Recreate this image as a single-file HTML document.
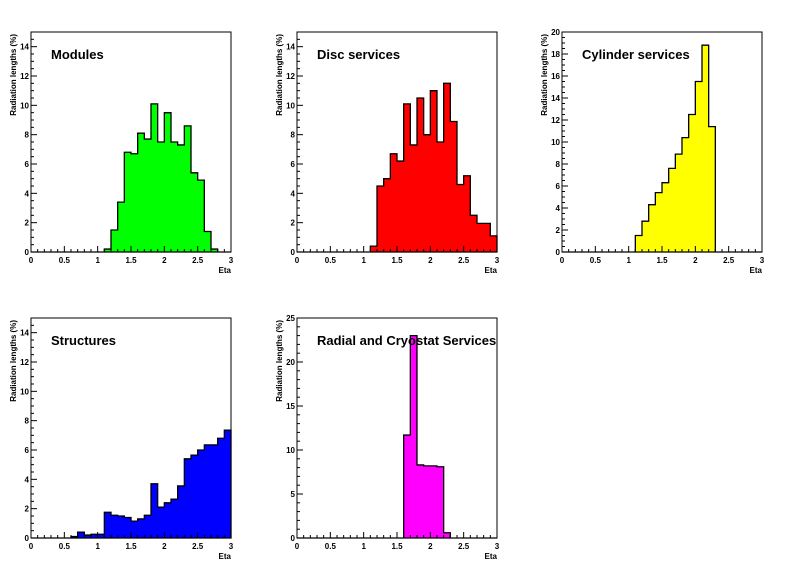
<!DOCTYPE html>
<html><head><meta charset="utf-8"><style>
html,body{margin:0;padding:0;background:#fff}
svg{display:block;font-family:"Liberation Sans",Arial,sans-serif}
</style></head><body>
<svg id="c" width="796" height="572"></svg>
<script>
const categories = ["Modules","Disc services","Cylinder services","Structures","Radial and Cryostat Services"];
const binEdgesStart = 0, binWidth = 0.1, nBins = 30;
const modulesValues = [0,0,0,0,0,0,0,0,0,0,0,0.2,1.5,3.4,6.8,6.7,8.1,7.7,10.1,7.5,9.5,7.5,7.3,8.6,5.4,4.9,1.4,0.2,0,0];
const discValues = [0,0,0,0,0,0,0,0,0,0,0,0.4,4.5,5.0,6.7,6.2,10.1,7.3,10.5,8.0,11.0,7.5,11.5,8.9,4.6,5.2,2.5,1.95,1.95,1.1];
const cylinderValues = [0,0,0,0,0,0,0,0,0,0,0,1.5,2.8,4.3,5.4,6.3,7.6,8.9,10.4,12.5,15.5,18.8,11.4,0,0,0,0,0,0,0];
const structuresValues = [0,0,0,0,0,0,0.1,0.4,0.2,0.25,0.25,1.75,1.55,1.5,1.4,1.15,1.3,1.55,3.7,2.1,2.4,2.65,3.55,5.4,5.65,6.0,6.35,6.35,6.8,7.35];
const radialValues = [0,0,0,0,0,0,0,0,0,0,0,0,0,0,0,0,11.7,23.0,8.3,8.2,8.2,8.1,0.6,0,0,0,0,0,0,0];
const xTickLabels = ["0","0.5","1","1.5","2","2.5","3"];
const yMaxes = [15,15,20,15,25];
const yMajorSteps = [2,2,2,2,5];
const yMinorSteps = [0.5,0.5,0.5,0.5,1];
const seriesList = [modulesValues,discValues,cylinderValues,structuresValues,radialValues];
const colors = ["#00ff00","#ff0000","#ffff00","#0000ff","#ff00ff"];
const panelX = [31,297,562,31,297], panelY = [32,32,32,318,318];
const W = 200, H = 220;
const NS = "http://www.w3.org/2000/svg";
const svg = document.getElementById('c');
function mk(tag, attrs, parent){const e=document.createElementNS(NS,tag);for(const k in attrs)e.setAttribute(k,attrs[k]);(parent||svg).appendChild(e);return e;}
const slugs=["modules","disc-services","cylinder-services","structures","radial-cryostat-services"];
for(let p=0;p<5;p++){
  const x0=panelX[p], y0=panelY[p], ymax=yMaxes[p], vals=seriesList[p];
  const g=mk('g',{});
  
  
  const xs=v=>x0+(v-0)/3*W;
  const ys=v=>y0+H-v/ymax*H;
  // histogram
  let d='M'+xs(0)+','+ys(0);
  const step=[];
  for(let i=0;i<nBins;i++){const a=binEdgesStart+i*binWidth;d+=' L'+xs(a)+','+ys(vals[i])+' L'+xs(a+binWidth)+','+ys(vals[i]);}
  d+=' L'+xs(3)+','+ys(0)+' Z';
  const h=mk('path',{d:d,fill:colors[p],stroke:'#000','stroke-width':1.3},g);
  
  
  const fr=mk('rect',{x:x0,y:y0,width:W,height:H,fill:'none',stroke:'#000','stroke-width':1},g);
  
  
  // x ticks
  for(let k=0;k<=30;k++){const v=k*0.1;const major=k%5===0;mk('line',{x1:xs(v),x2:xs(v),y1:y0+H,y2:y0+H-(major?6:3),stroke:'#000'},g);}
  xTickLabels.forEach((t,i)=>{const tx=mk('text',{x:xs(i*0.5),y:y0+H+11,'font-size':8,'font-weight':'bold','text-anchor':'middle'},g);tx.textContent=t;
    
    });
  const xt=mk('text',{x:x0+W,y:y0+H+21,'font-size':8,'font-weight':'bold','text-anchor':'end'},g);xt.textContent='Eta';
  
  
  // y ticks
  const nm=Math.round(ymax/yMinorSteps[p]);
  for(let k=0;k<=nm;k++){const v=k*yMinorSteps[p];const major=Math.abs(v/yMajorSteps[p]-Math.round(v/yMajorSteps[p]))<1e-6;mk('line',{x1:x0,x2:x0+(major?6:3),y1:ys(v),y2:ys(v),stroke:'#000'},g);}
  for(let v=0;v<=ymax+1e-6;v+=yMajorSteps[p]){const tx=mk('text',{x:x0-2,y:ys(v)+3,'font-size':8,'font-weight':'bold','text-anchor':'end'},g);tx.textContent=String(v);
    
    }
  const yt=mk('text',{x:0,y:0,'font-size':8,'font-weight':'bold','text-anchor':'end',transform:'translate('+(x0-15)+','+(y0+2)+') rotate(-90)'},g);yt.textContent='Radiation lengths (%)';
  
  
  const tt=mk('text',{x:x0+20,y:y0+27,'font-size':13,'font-weight':'bold'},g);tt.textContent=categories[p];
  
  
}
</script>
</body></html>
